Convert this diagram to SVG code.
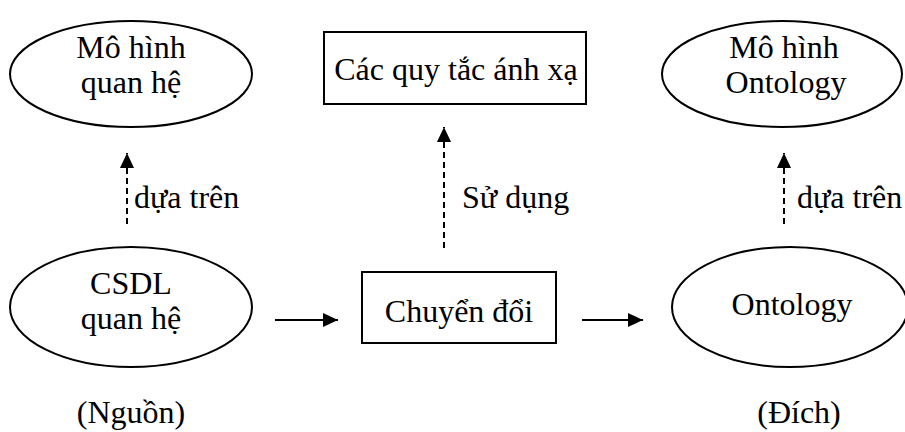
<svg xmlns="http://www.w3.org/2000/svg" width="905" height="432" viewBox="0 0 905 432">
<defs>
<marker id="ah" markerWidth="16" markerHeight="14" refX="15" refY="7" orient="auto" markerUnits="userSpaceOnUse">
<path d="M0,0 L15,7 L0,14 Z" fill="#000"/>
</marker>
<style>
.shape{fill:#fff;stroke:#000;stroke-width:2}
.t{font-family:"Liberation Serif","Times New Roman",serif;font-size:32px;fill:#000;text-anchor:middle}
.tl{font-family:"Liberation Serif","Times New Roman",serif;font-size:32px;fill:#000}
.solid{stroke:#000;stroke-width:2;fill:none}
.dash{stroke:#000;stroke-width:2;fill:none;stroke-dasharray:6 4}
</style>
</defs>
<rect width="905" height="432" fill="#fff"/>
<g id="mohinh-quanhe">
<ellipse class="shape" cx="131" cy="74" rx="121" ry="53"/>
<text class="t" x="131" y="58">Mô hình</text>
<text class="t" x="131" y="93">quan hệ</text>
</g>
<g id="quytac">
<rect class="shape" x="324" y="32" width="262" height="72"/>
<text class="t" x="456" y="80">Các quy tắc ánh xạ</text>
</g>
<g id="mohinh-ontology">
<ellipse class="shape" cx="782" cy="74" rx="120" ry="53"/>
<text class="t" x="784" y="58">Mô hình</text>
<text class="t" x="786" y="93">Ontology</text>
</g>
<g id="csdl">
<ellipse class="shape" cx="131" cy="307" rx="121" ry="60"/>
<text class="t" x="131" y="294">CSDL</text>
<text class="t" x="131" y="329">quan hệ</text>
</g>
<g id="chuyendoi">
<rect class="shape" x="362" y="272" width="194" height="71"/>
<text class="t" x="459" y="322">Chuyển đổi</text>
</g>
<g id="ontology">
<ellipse class="shape" cx="790" cy="307" rx="118" ry="60"/>
<text class="t" x="792" y="315">Ontology</text>
</g>
<g id="captions">
<text class="t" x="131" y="423">(Nguồn)</text>
<text class="t" x="799" y="423">(Đích)</text>
</g>
<g id="connectors">
<line class="dash" x1="127" y1="224" x2="127" y2="153" marker-end="url(#ah)"/>
<line class="dash" x1="444" y1="248" x2="444" y2="127" marker-end="url(#ah)"/>
<line class="dash" x1="784" y1="224" x2="784" y2="153" marker-end="url(#ah)"/>
<line class="solid" x1="275" y1="320" x2="338" y2="320" marker-end="url(#ah)"/>
<line class="solid" x1="582" y1="320" x2="643" y2="320" marker-end="url(#ah)"/>
<text class="tl" x="134" y="208">dựa trên</text>
<text class="tl" x="462" y="208">Sử dụng</text>
<text class="tl" x="797" y="208">dựa trên</text>
</g>
</svg>
